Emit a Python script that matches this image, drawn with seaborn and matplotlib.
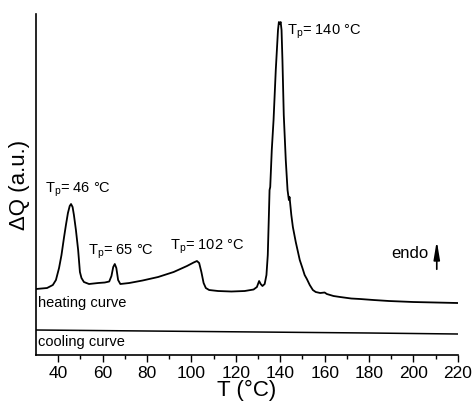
import matplotlib
matplotlib.use("Agg")
import matplotlib.pyplot as plt
import seaborn as sns
import pandas as pd

# Heating curve (T in °C, signal in arbitrary units)
heat_T = [30, 35, 37.6, 39, 40.4, 41.5, 42.6, 43.5, 44.4, 45.2, 45.8, 46.5, 47.1, 48, 49, 49.8, 50.5, 51.6,
          53.9, 58, 61, 63,
          64, 64.8, 65.5, 66.2, 67, 68, 72, 78, 85, 92, 98, 101, 102.5, 103.5, 104.5, 105.5, 106.5, 108,
          112, 118, 124, 128, 129.5, 130.5, 131.2, 132, 133, 133.8, 134.4, 134.9, 135.2, 135.5, 136.2,
          137, 138, 139, 139.4, 139.8, 140.2, 140.6, 141, 141.6, 142.5, 143.3, 143.9, 144.2, 145, 145.7,
          147, 148.8, 150, 151, 152, 153.3, 154.7, 156, 158, 160, 161, 164, 167, 172, 176, 182, 189, 200,
          210, 220]
heat_Q = [66, 67, 70, 75, 87, 100, 117, 130, 142, 149, 151, 148, 140, 125, 105, 83, 77, 73,
          71, 72, 72.5, 73.5,
          79, 88, 91, 87, 75, 71, 72, 74.5, 78, 83, 89, 92.5, 94, 92, 83, 72, 67, 65,
          64, 63.5, 64, 65.5, 68, 74, 71, 69, 71, 80, 100, 140, 165, 168, 205,
          235, 285, 325, 333, 331, 333, 325, 295, 240, 195, 165, 155, 158, 140, 128,
          113, 95, 87, 80, 76, 70, 65, 63, 62, 62.5, 61, 59, 58, 56.5, 56, 55, 54, 53,
          52.5, 52]

# Cooling curve
cool_T = [30, 80, 130, 180, 220]
cool_Q = [25, 24, 23, 22, 21]

x_ticks = [40, 60, 80, 100, 120, 140, 160, 180, 200, 220]
minor_ticks = [50, 70, 90, 110, 130, 150, 170, 190, 210]

sns.set_style("ticks")
plt.rcParams['font.family'] = ['Liberation Sans', 'DejaVu Sans']
plt.rcParams['mathtext.fontset'] = 'custom'
plt.rcParams['mathtext.rm'] = 'Liberation Sans'
plt.rcParams['mathtext.it'] = 'Liberation Sans:italic'
plt.rcParams['text.color'] = 'black'
plt.rcParams['axes.labelcolor'] = 'black'
plt.rcParams['xtick.color'] = 'black'

fig = plt.figure(figsize=(4.73, 4.01), dpi=100)
ax = fig.add_axes([0.076, 0.1147, 0.892, 0.8503])

heat = pd.DataFrame({"T": heat_T, "Q": heat_Q})
cool = pd.DataFrame({"T": cool_T, "Q": cool_Q})
sns.lineplot(data=heat, x="T", y="Q", ax=ax, color="black", linewidth=1.3, sort=False)
sns.lineplot(data=cool, x="T", y="Q", ax=ax, color="black", linewidth=1.1, sort=False)

ax.set_xlim(30, 220)
ax.set_ylim(0, 341)
ax.set_xticks(x_ticks)
ax.set_xticks(minor_ticks, minor=True)
ax.set_yticks([])
ax.tick_params(axis='x', which='major', direction='out', length=5, width=1, labelsize=12.5,
               colors='black', pad=3)
ax.tick_params(axis='x', which='minor', direction='out', length=3, width=1)
for s in ['top', 'right']:
    ax.spines[s].set_visible(False)
for s in ['left', 'bottom']:
    ax.spines[s].set_color('black')
    ax.spines[s].set_linewidth(1.2)

ax.set_xlabel("T (°C)", fontsize=16, labelpad=-1)
ax.set_ylabel("ΔQ (a.u.)", fontsize=16, labelpad=4)

fs = 10.5
ax.text(34, 165, r"T$_\mathrm{p}$= 46 °C", fontsize=fs, va='center', ha='left')
ax.text(53.4, 103, r"T$_\mathrm{p}$= 65 °C", fontsize=fs, va='center', ha='left')
ax.text(90.3, 108, r"T$_\mathrm{p}$= 102 °C", fontsize=fs, va='center', ha='left')
ax.text(143, 323, r"T$_\mathrm{p}$= 140 °C", fontsize=fs, va='center', ha='left')
ax.text(206.6, 102, "endo", fontsize=12, va='center', ha='right')
ax.annotate("", xy=(210.5, 117), xytext=(210.5, 83),
            arrowprops=dict(arrowstyle='-|>,head_length=0.9,head_width=0.15', color='black',
                            lw=1.2, mutation_scale=12))
ax.text(30.9, 52, "heating curve", fontsize=10.5, va='center', ha='left')
ax.text(30.9, 13, "cooling curve", fontsize=10.5, va='center', ha='left')

fig.savefig("out.png", dpi=100)
